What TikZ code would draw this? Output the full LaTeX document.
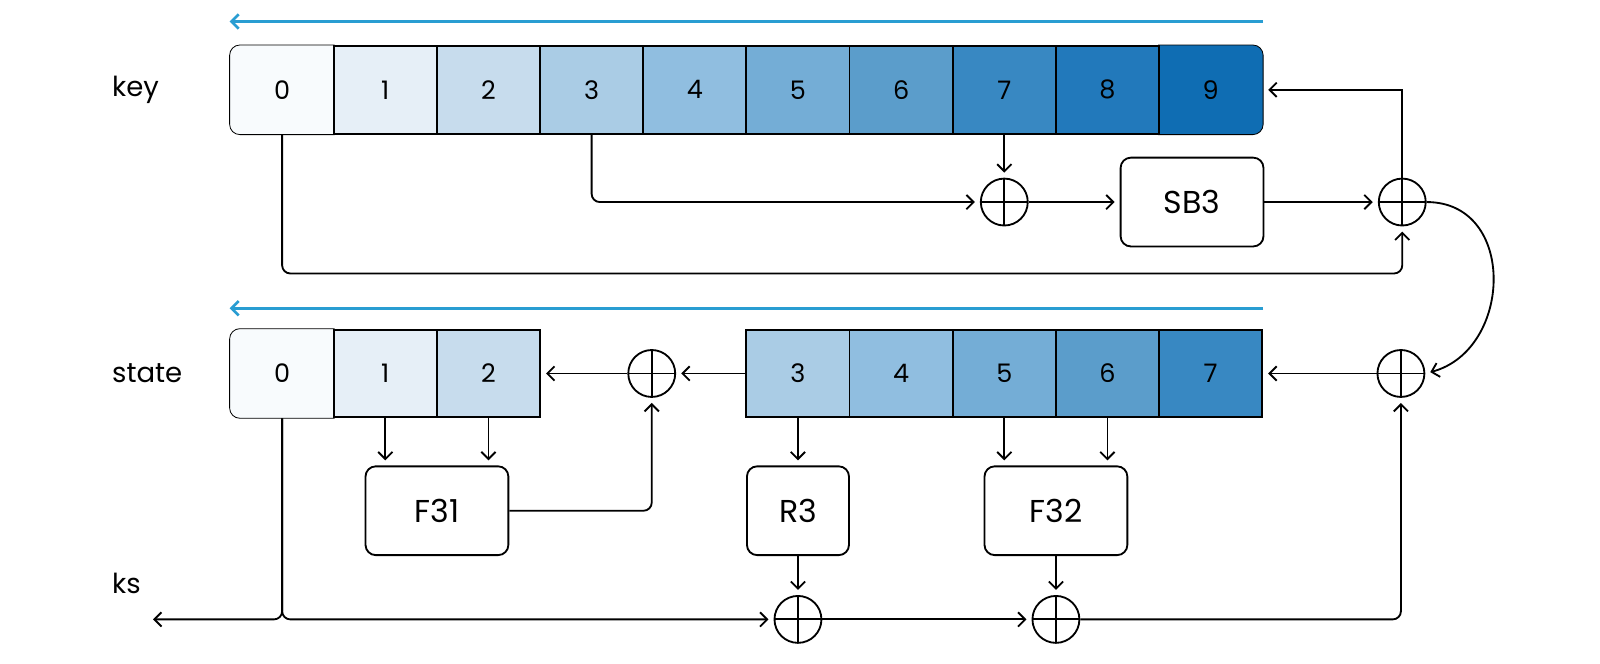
\documentclass[tikz,border=0pt]{standalone}
\usepackage{fontspec}
\setmainfont{Poppins}
\usetikzlibrary{arrows.meta,backgrounds,positioning}
\definecolor{c0}{HTML}{F8FBFD}
\definecolor{c1}{HTML}{E6EFF7}
\definecolor{c2}{HTML}{C7DCED}
\definecolor{c3}{HTML}{AACCE5}
\definecolor{c4}{HTML}{90BEE0}
\definecolor{c5}{HTML}{74ADD6}
\definecolor{c6}{HTML}{5B9DCB}
\definecolor{c7}{HTML}{3888C2}
\definecolor{c8}{HTML}{2279BB}
\definecolor{c9}{HTML}{0F6DB3}
\definecolor{shiftblue}{RGB}{41,157,210}
\begin{document}
\begin{tikzpicture}[x=0.5pt,y=-0.5pt,line width=0.9pt,node distance=50.55pt,
                    >={Straight Barb[length=3.5pt,width=7pt]}]
\tikzset{cell/.style={draw,minimum width=50.55pt,
                      minimum height=43pt,
                      inner sep=0pt,
                      font=\fontsize{12.5}{12.5}\selectfont},
         endcell/.style={cell,draw=none},
         box/.style={draw,rounded corners=5pt,
                     minimum width=70pt,
                     minimum height=43.5pt,
                     inner sep=0pt,
                     font=\fontsize{15.5}{15.5}\selectfont},
         xor/.style={draw,circle,minimum size=23pt,inner sep=0pt,
                     path picture={\draw (path picture bounding box.north) -- (path picture bounding box.south)
                                         (path picture bounding box.west) -- (path picture bounding box.east);}},
         lbl/.style={anchor=west,inner sep=0pt,font=\fontsize{13.5}{13.5}\selectfont},
         flow/.style={->,shorten >=2.5pt},
         shiftarrow/.style={->,shiftblue,line width=1.3pt}
}
\useasboundingbox (0,0) rectangle (1568,650);
% key register
\node[lbl] (keylbl) at (109,88) {key};
\node[endcell] (k0) at (276.5,88) {0};
\node[cell,fill=c1,right of=k0] (k1) {1};
\node[cell,fill=c2,right of=k1] (k2) {2};
\node[cell,fill=c3,right of=k2] (k3) {3};
\node[cell,fill=c4,right of=k3] (k4) {4};
\node[cell,fill=c5,right of=k4] (k5) {5};
\node[cell,fill=c6,right of=k5] (k6) {6};
\node[cell,fill=c7,right of=k6] (k7) {7};
\node[cell,fill=c8,right of=k7] (k8) {8};
\node[endcell,right of=k8] (k9) {9};
\draw[shiftarrow] ([yshift=11.5pt]k9.north east) -- ([yshift=11.5pt]k0.north west);
% state register
\node[lbl] (statelbl) at (109,366) {state};
\node[endcell] (s0) at (276.5,366) {0};
\node[cell,fill=c1,right of=s0] (s1) {1};
\node[cell,fill=c2,right of=s1] (s2) {2};
\node[cell,fill=c3,right of=s2,xshift=101.1pt] (s3) {3};
\node[cell,fill=c4,right of=s3] (s4) {4};
\node[cell,fill=c5,right of=s4] (s5) {5};
\node[cell,fill=c6,right of=s5] (s6) {6};
\node[cell,fill=c7,right of=s6] (s7) {7};
\draw[shiftarrow] ([yshift=10pt]s7.north east) -- ([yshift=10pt]s0.north west);
\begin{scope}[on background layer]
\filldraw[fill=c0,rounded corners=5pt] (k0.north east) -- (k0.north west) -- (k0.south west) -- (k0.south east);
\filldraw[fill=c9,rounded corners=5pt] (k9.north west) -- (k9.north east) -- (k9.south east) -- (k9.south west);
\filldraw[fill=c0,rounded corners=5pt] (s0.north east) -- (s0.north west) -- (s0.south west) -- (s0.south east);
\end{scope}
% key update
\node[xor,below of=k7,node distance=55pt] (x1) {};
\node[box,right of=x1,node distance=92pt] (sb3) {SB3};
\node[xor,right of=x1,node distance=195pt] (x2) {};
\coordinate[below of=x2,node distance=35pt] (c1);
\draw[flow] (k7) -- (x1);
\draw[flow,rounded corners=4pt] (k3.south) |- (x1);
\draw[flow] (x1) -- (sb3);
\draw[flow] (sb3) -- (x2);
\draw[flow,rounded corners=4pt] (k0.south) |- (c1) -- (x2);
\draw[flow] (x2) |- (k9.east);
% state update
\node[xor,right of=s7,node distance=93.25pt] (x3) {};
\node[xor,right of=s2,node distance=80pt] (xs) {};
\draw[flow] (x2.east) to[out=0,in=15,looseness=1.35] (x3.east);
\draw[flow] (x3) -- (s7);
\draw[flow] (s3) -- (xs);
\draw[flow] (xs) -- (s2);
\node[box,below of=s1,xshift=25.3pt,node distance=67.25pt] (f31) {F31};
\node[box,below of=s3,node distance=67.25pt,minimum width=50pt] (r3) {R3};
\node[box,below of=s5,xshift=25.3pt,node distance=67.25pt] (f32) {F32};
\draw[flow] (s1.south) -- (s1.south |- f31.north);
\draw[flow] (s2.south) -- (s2.south |- f31.north);
\draw[flow] (s3) -- (r3);
\draw[flow] (s5.south) -- (s5.south |- f32.north);
\draw[flow] (s6.south) -- (s6.south |- f32.north);
\draw[flow,rounded corners=4pt] (f31) -| (xs);
% keystream
\node[lbl] (kslbl) at (109,572) {ks};
\node[xor,below of=r3,node distance=53.25pt] (xa) {};
\node[xor,below of=f32,node distance=53.25pt] (xb) {};
\coordinate (j) at (s0.south |- xa);
\coordinate[left of=j,node distance=65.75pt] (ksout);
\draw[flow] (r3) -- (xa);
\draw[flow] (f32) -- (xb);
\draw[flow,rounded corners=4pt] (s0.south) |- (ksout);
\draw[flow,rounded corners=4pt] (s0.south) |- (xa);
\draw[flow] (xa) -- (xb);
\draw[flow,rounded corners=4pt] (xb) -| (x3);
\end{tikzpicture}
\end{document}
